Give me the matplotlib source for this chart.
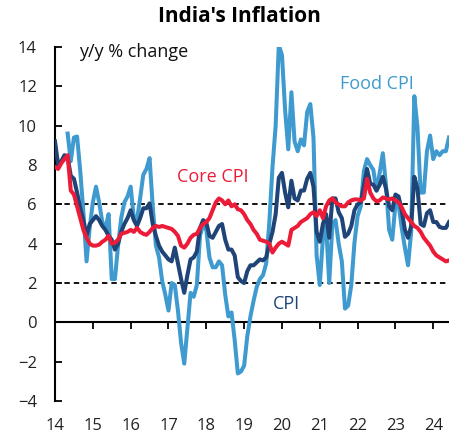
import numpy as np
import matplotlib.pyplot as plt

plt.rcParams['font.family'] = ['Open Sans', 'DejaVu Sans']

# ---- data: monthly y/y %, Jan 2014 .. Jun 2024 ----
start_year = 2014
cpi = [9.2, 8.0, 8.2, 8.5, 8.4, 7.45, 7.3, 6.6, 5.8, 5.2, 4.4, 5.0,
       5.2, 5.4, 5.2, 4.9, 4.7, 4.4, 4.2, 3.7, 4.0, 4.6, 5.0, 5.3,
       5.7, 5.2, 4.9, 5.3, 5.8, 5.8, 6.05, 5.0, 4.4, 3.9, 3.6, 3.4,
       3.2, 3.1, 3.8, 3.0, 2.2, 1.5, 2.4, 3.2, 3.3, 3.6, 4.8, 5.2,
       5.07, 4.4, 4.3, 4.6, 4.9, 5.0, 4.2, 3.7, 3.7, 3.4, 2.3, 2.1,
       2.0, 2.6, 2.9, 2.9, 3.05, 3.2, 3.15, 3.3, 4.0, 4.6, 5.5, 7.35,
       7.6, 6.6, 5.85, 7.2, 6.3, 6.2, 6.7, 6.7, 7.3, 7.6, 6.9, 4.6,
       4.1, 5.0, 5.5, 4.3, 6.3, 6.3, 5.6, 5.3, 4.35, 4.5, 4.9, 5.7,
       6.0, 6.1, 6.95, 7.8, 7.05, 7.0, 6.7, 7.0, 7.4, 6.8, 5.9, 5.7,
       6.5, 6.4, 5.7, 4.7, 4.3, 4.9, 7.4, 6.8, 5.0, 4.9, 5.55, 5.7,
       5.1, 5.1, 4.85, 4.8, 4.8, 5.1]

# food series starts in May 2014
food_start = 4
food = [9.6, 8.2, 9.4, 9.45, 7.7, 5.6, 3.1, 4.8,
        6.1, 6.9, 6.1, 5.1, 4.8, 5.5, 2.2, 2.2, 3.9, 5.3, 6.1, 6.4,
        6.9, 5.3, 5.2, 6.3, 7.5, 7.8, 8.35, 5.9, 3.9, 3.3, 2.1, 1.4,
        0.6, 2.0, 1.9, 0.6, -1.05, -2.1, -0.3, 1.5, 1.3, 1.9, 4.4, 4.96,
        4.7, 3.3, 2.8, 2.8, 3.1, 2.9, 1.4, 0.3, 0.5, -0.9, -2.6, -2.5,
        -2.2, -0.7, 0.3, 1.1, 1.8, 2.2, 2.4, 3.0, 5.1, 7.9, 10.0, 14.1,
        13.6, 10.8, 8.8, 11.7, 9.2, 8.7, 9.3, 9.0, 10.7, 11.1, 9.4, 3.4,
        1.9, 4.3, 4.9, 2.0, 5.0, 5.2, 4.0, 3.1, 0.7, 0.85, 1.9, 4.05,
        5.4, 5.9, 7.7, 8.3, 8.0, 7.75, 6.7, 7.6, 8.6, 7.0, 4.7, 4.2,
        6.0, 6.0, 4.8, 3.8, 2.9, 4.6, 11.5, 9.9, 6.6, 6.6, 8.7, 9.5,
        8.3, 8.7, 8.5, 8.7, 8.7, 9.4]

core = [7.9, 7.8, 8.1, 8.3, 8.5, 6.7, 6.5, 5.9, 5.3, 4.7, 4.3, 4.0,
        3.9, 3.9, 3.95, 4.1, 4.2, 4.4, 4.0, 4.05, 4.2, 4.5, 4.55, 4.6,
        4.7, 4.6, 4.8, 4.6, 4.5, 4.45, 4.6, 4.8, 4.9, 4.85, 4.9, 4.85,
        4.8, 4.75, 4.6, 4.4, 3.9, 3.8, 4.0, 4.3, 4.45, 4.5, 4.8, 5.0,
        5.1, 5.3, 5.7, 6.1, 6.3, 6.2, 6.0, 6.2, 5.9, 6.0, 5.75, 5.7,
        5.5, 5.2, 5.0, 4.7, 4.5, 4.2, 4.15, 4.1, 4.0, 3.55, 3.8, 4.0,
        4.1, 4.0, 3.9, 4.7, 4.8, 4.9, 5.1, 5.2, 5.3, 5.5, 5.6, 5.4,
        5.7, 5.3, 5.9, 6.2, 6.3, 6.1, 6.0, 5.9, 5.9, 6.1, 6.2, 6.25,
        6.25, 6.2, 6.3, 7.3, 6.6, 6.3, 6.15, 6.2, 6.35, 6.3, 6.25, 6.3,
        6.2, 6.1, 5.85, 5.5, 5.3, 5.1, 4.9, 4.8, 4.6, 4.3, 4.1, 3.9,
        3.6, 3.4, 3.3, 3.2, 3.1, 3.15]

years = list(range(2014, 2025))
year_labels = [str(y % 100) for y in years]
y_ticks = [-4, -2, 0, 2, 4, 6, 8, 10, 12, 14]
ref_levels = [6, 2]

c_food = "#3f9bcf"
c_cpi = "#1f4477"
c_core = "#ec1c38"

t_all = start_year + np.arange(len(cpi)) / 12.0
t_food = t_all[food_start:food_start + len(food)]

fig = plt.figure(figsize=(4.57, 4.37), dpi=100)
ax = fig.add_axes([0.1204, 0.0824, 0.8621, 0.81])

for lvl in ref_levels:
    ax.axhline(lvl, color="k", ls=(0, (3, 2.2)), lw=1.3, zorder=1)

ax.plot(t_food, food, color=c_food, lw=2.9, solid_joinstyle="round", zorder=3)
ax.plot(t_all, cpi, color=c_cpi, lw=2.9, solid_joinstyle="round", zorder=4)
ax.plot(t_all, core, color=c_core, lw=2.9, solid_joinstyle="round", zorder=5)

# zero line with downward ticks
ax.axhline(0, color="k", lw=1.5, zorder=2)
ax.vlines(years, -0.35, 0, color="k", lw=1.3, zorder=2)

ax.set_xlim(start_year, start_year + (len(cpi) - 1) / 12.0)
ax.set_ylim(-4, 14)
ax.set_xticks(years)
ax.set_xticklabels(year_labels)
ax.set_yticks(y_ticks)
ax.tick_params(axis="x", length=0, pad=12, labelsize=12, labelcolor="#222222")
ax.tick_params(axis="y", direction="in", length=5, width=1.3, pad=13,
               labelsize=12, labelcolor="#222222")

for s in ["top", "right", "bottom"]:
    ax.spines[s].set_visible(False)
ax.spines["left"].set_linewidth(1.5)

ax.text(0.062, 0.985, "y/y % change", transform=ax.transAxes, fontsize=13,
        va="center", ha="left", color="#111111")
ax.text(2021.54, 12.1, "Food CPI", color=c_food, fontsize=13, va="center")
ax.text(2017.23, 7.4, "Core CPI", color=c_core, fontsize=13, va="center")
ax.text(2019.75, 0.95, "CPI", color=c_cpi, fontsize=13, va="center")

fig.text(0.523, 0.963, "India's Inflation", fontsize=15, fontweight="bold",
         ha="center", va="center")

fig.savefig("out.png", dpi=100)
